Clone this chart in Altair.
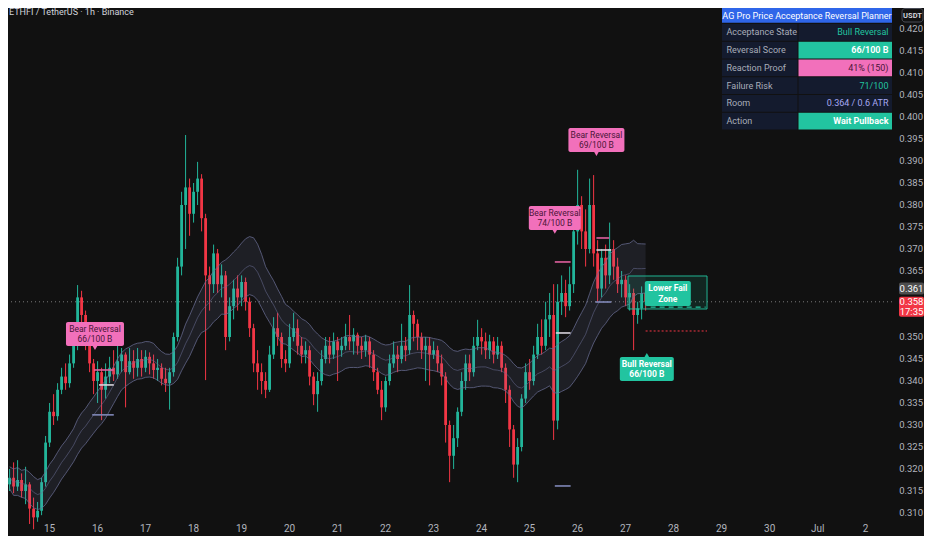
import altair as alt
import pandas as pd

# ---------------- data ----------------
START_HOUR = -20          # hours relative to 15 Jun 00:00
BAR_HOURS = 2
OPEN_FIRST = 0.3165

CLOSE = [0.3180, 0.3160, 0.3175, 0.3150, 0.3165, 0.3110, 0.3090, 0.3105, 0.3170, 0.3260,
         0.3330, 0.3320, 0.3380, 0.3410, 0.3395, 0.3440, 0.3480, 0.3590, 0.3550, 0.3490,
         0.3440, 0.3400, 0.3420, 0.3380, 0.3410, 0.3430, 0.3415, 0.3445, 0.3460, 0.3420,
         0.3445, 0.3430, 0.3450, 0.3430, 0.3455, 0.3440, 0.3425, 0.3430, 0.3405, 0.3395,
         0.3420, 0.3500, 0.3660, 0.3800, 0.3840, 0.3780, 0.3830, 0.3860, 0.3770, 0.3640,
         0.3620, 0.3690, 0.3620, 0.3640, 0.3500, 0.3570, 0.3610, 0.3590, 0.3625, 0.3580,
         0.3520, 0.3440, 0.3420, 0.3400, 0.3380, 0.3460, 0.3520, 0.3500, 0.3450, 0.3440,
         0.3500, 0.3520, 0.3480, 0.3460, 0.3470, 0.3410, 0.3370, 0.3400, 0.3450, 0.3480,
         0.3460, 0.3490, 0.3470, 0.3480, 0.3500, 0.3490, 0.3505, 0.3480, 0.3470, 0.3490,
         0.3460, 0.3420, 0.3380, 0.3340, 0.3400, 0.3440, 0.3460, 0.3450, 0.3480, 0.3470,
         0.3550, 0.3530, 0.3500, 0.3470, 0.3480, 0.3460, 0.3470, 0.3440, 0.3410, 0.3300,
         0.3230, 0.3270, 0.3330, 0.3400, 0.3440, 0.3420, 0.3480, 0.3500, 0.3490, 0.3470,
         0.3490, 0.3460, 0.3480, 0.3430, 0.3380, 0.3290, 0.3210, 0.3250, 0.3360, 0.3420,
         0.3400, 0.3460, 0.3500, 0.3480, 0.3540, 0.3550, 0.3310, 0.3580, 0.3600, 0.3570,
         0.3620, 0.3740, 0.3800, 0.3740, 0.3700, 0.3800, 0.3690, 0.3610, 0.3680, 0.3640,
         0.3700, 0.3660, 0.3620, 0.3630, 0.3590, 0.3600, 0.3550, 0.3565, 0.3600, 0.3580]

HIGH = [0.3200, 0.3215, 0.3220, 0.3190, 0.3205, 0.3170, 0.3135, 0.3125, 0.3180, 0.3275,
        0.3350, 0.3370, 0.3395, 0.3430, 0.3440, 0.3460, 0.3520, 0.3618, 0.3605, 0.3560,
        0.3500, 0.3450, 0.3445, 0.3430, 0.3440, 0.3455, 0.3470, 0.3480, 0.3475, 0.3465,
        0.3475, 0.3470, 0.3475, 0.3470, 0.3470, 0.3465, 0.3460, 0.3450, 0.3440, 0.3430,
        0.3430, 0.3510, 0.3680, 0.3830, 0.3959, 0.3860, 0.3850, 0.3898, 0.3870, 0.3780,
        0.3660, 0.3710, 0.3700, 0.3665, 0.3650, 0.3590, 0.3630, 0.3640, 0.3640, 0.3635,
        0.3590, 0.3530, 0.3470, 0.3440, 0.3420, 0.3480, 0.3545, 0.3555, 0.3510, 0.3470,
        0.3530, 0.3555, 0.3540, 0.3500, 0.3490, 0.3480, 0.3420, 0.3420, 0.3470, 0.3500,
        0.3500, 0.3510, 0.3500, 0.3500, 0.3530, 0.3550, 0.3520, 0.3510, 0.3500, 0.3505,
        0.3500, 0.3470, 0.3430, 0.3400, 0.3410, 0.3460, 0.3490, 0.3480, 0.3530, 0.3500,
        0.3618, 0.3560, 0.3540, 0.3510, 0.3500, 0.3500, 0.3490, 0.3480, 0.3460, 0.3420,
        0.3310, 0.3300, 0.3340, 0.3420, 0.3460, 0.3460, 0.3500, 0.3539, 0.3520, 0.3510,
        0.3505, 0.3500, 0.3500, 0.3490, 0.3440, 0.3390, 0.3300, 0.3270, 0.3370, 0.3440,
        0.3450, 0.3480, 0.3530, 0.3540, 0.3580, 0.3600, 0.3620, 0.3620, 0.3640, 0.3630,
        0.3660, 0.3760, 0.3880, 0.3820, 0.3790, 0.3860, 0.3868, 0.3720, 0.3700, 0.3710,
        0.3760, 0.3720, 0.3680, 0.3650, 0.3640, 0.3620, 0.3610, 0.3580, 0.3615, 0.3610]

LOW = [0.3150, 0.3145, 0.3150, 0.3135, 0.3120, 0.3075, 0.3063, 0.3080, 0.3095, 0.3160,
       0.3250, 0.3300, 0.3310, 0.3370, 0.3380, 0.3385, 0.3430, 0.3470, 0.3520, 0.3470,
       0.3420, 0.3370, 0.3350, 0.3311, 0.3360, 0.3395, 0.3400, 0.3405, 0.3420, 0.3340,
       0.3415, 0.3405, 0.3410, 0.3410, 0.3420, 0.3415, 0.3405, 0.3400, 0.3390, 0.3375,
       0.3335, 0.3410, 0.3490, 0.3640, 0.3700, 0.3730, 0.3760, 0.3800, 0.3740, 0.3402,
       0.3560, 0.3600, 0.3600, 0.3590, 0.3470, 0.3490, 0.3540, 0.3560, 0.3570, 0.3560,
       0.3500, 0.3420, 0.3380, 0.3370, 0.3361, 0.3375, 0.3450, 0.3480, 0.3430, 0.3420,
       0.3430, 0.3490, 0.3460, 0.3440, 0.3440, 0.3390, 0.3345, 0.3330, 0.3390, 0.3440,
       0.3440, 0.3450, 0.3400, 0.3455, 0.3470, 0.3470, 0.3460, 0.3460, 0.3450, 0.3455,
       0.3430, 0.3400, 0.3370, 0.3311, 0.3330, 0.3390, 0.3430, 0.3420, 0.3440, 0.3445,
       0.3460, 0.3490, 0.3470, 0.3450, 0.3400, 0.3390, 0.3450, 0.3420, 0.3390, 0.3260,
       0.3170, 0.3200, 0.3250, 0.3320, 0.3380, 0.3400, 0.3410, 0.3470, 0.3460, 0.3450,
       0.3450, 0.3440, 0.3450, 0.3420, 0.3350, 0.3250, 0.3180, 0.3170, 0.3240, 0.3350,
       0.3380, 0.3390, 0.3450, 0.3460, 0.3470, 0.3500, 0.3266, 0.3290, 0.3550, 0.3545,
       0.3560, 0.3600, 0.3710, 0.3700, 0.3660, 0.3690, 0.3660, 0.3580, 0.3590, 0.3610,
       0.3620, 0.3630, 0.3600, 0.3590, 0.3570, 0.3560, 0.3470, 0.3530, 0.3540, 0.3560]

DAY_TICKS = list(range(15, 33))          # 15 Jun ... 30 Jun, Jul, 2
PRICE_TICKS = [round(0.310 + 0.005 * k, 3) for k in range(23)]
HIDDEN_TICKS = [0.355, 0.360]            # covered by the price tags
MARK_PRICE = 0.361
LAST_PRICE = CLOSE[-1]
COUNTDOWN = "17:35"
TITLE = "ETHFI / TetherUS · 1h · Binance"

REV_TEXT = ["Bear Reversal\n66/100 B", "Bear Reversal\n74/100 B",
            "Bear Reversal\n69/100 B", "Bull Reversal\n66/100 B"]
REV_HOUR = [22.7, 252.6, 273.4, 298.6]
REV_PRICE = [0.3468, 0.3732, 0.3909, 0.3466]
REV_SIDE = ["bear", "bear", "bear", "bull"]

ZONE_HOURS = [289.2, 328.7]
ZONE_PRICES = [0.35636, 0.36386]
ZONE_TEXT = "Lower Fail\nZone"
ZONE_TEXT_HOUR = 297.6
ZONE_TEXT_PRICE = 0.35989
ZONE_DASH_PRICE = 0.3568
ZONE_DASH_HOURS = [300.5, 328.0]
FAIL_PRICE = 0.35136
FAIL_HOURS = [298.0, 328.7]

LEVEL_H0 = [21.3, 22.2, 24.7, 252.6, 253.1, 252.6, 273.4, 273.4, 272.9]
LEVEL_H1 = [32.1, 32.1, 32.1, 260.5, 260.5, 260.5, 279.8, 280.8, 280.8]
LEVEL_P = [0.3323, 0.3425, 0.3391, 0.36705, 0.35091, 0.31614, 0.3725, 0.36977, 0.35795]
LEVEL_KIND = ["base", "top", "mid", "top", "mid", "base", "top", "mid", "base"]

TABLE_TITLE = "AG Pro Price Acceptance Reversal Planner"
TABLE_LABELS = ["Acceptance State", "Reversal Score", "Reaction Proof",
                "Failure Risk", "Room", "Action"]
TABLE_VALUES = ["Bull Reversal", "66/100 B", "41%  (150)", "71/100",
                "0.364 / 0.6 ATR", "Wait Pullback"]

# ---------------- styles ----------------
BG = "#111111"
UP = "#22b59a"
DN = "#f23645"
AXIS_TXT = "#b2b5be"
PINK = "#f270bb"
TEAL = "#22c4a0"
NAVY = "#141b2e"
FONT = "Roboto"
LEVEL_COLORS = {"top": "#e0609f", "mid": "#d8d4dc", "base": "#8088b8"}
W, H = 884, 514
LH = 10.5  # line height for two-line labels

XS = alt.Scale(domain=[-18.29, 418.68], nice=False, zero=False)
YS = alt.Scale(domain=[0.30795, 0.42477], nice=False, zero=False)

# ---------------- frames ----------------
rows = []
prev = OPEN_FIRST
for i, (c, h, l) in enumerate(zip(CLOSE, HIGH, LOW)):
    o = prev
    rows.append(dict(t=START_HOUR + BAR_HOURS * i, open=o, close=c,
                     high=max(h, o, c), low=min(l, o, c)))
    prev = c
df = pd.DataFrame(rows)

XE = dict(scale=XS, axis=None)
YE = dict(scale=YS, axis=None)
dir_color = alt.when(alt.datum.close >= alt.datum.open).then(alt.value(UP)).otherwise(alt.value(DN))

layers = []

# dotted last-price line
layers.append(alt.Chart(pd.DataFrame({"p": [LAST_PRICE]})).mark_rule(
    color="#7a7a7a", strokeDash=[1, 3], strokeWidth=1).encode(y=alt.Y("p:Q", **YE)))

# candles
layers.append(alt.Chart(df).mark_rule(strokeWidth=1).encode(
    x=alt.X("t:Q", **XE), y=alt.Y("low:Q", **YE), y2="high:Q", color=dir_color))
layers.append(alt.Chart(df).mark_bar(width=2.8).encode(
    x=alt.X("t:Q", **XE), y=alt.Y("open:Q", **YE), y2="close:Q", color=dir_color))

# envelope band (slow moving average +/- half the average bar range)
band_base = alt.Chart(df).transform_calculate(rng="datum.high - datum.low").transform_window(
    mid="mean(close)", atr="mean(rng)", frame=[-19, 0], sort=[alt.SortField("t")]).transform_calculate(
    up="datum.mid + 0.5*datum.atr", dn="datum.mid - 0.5*datum.atr")
layers.append(band_base.mark_area(color="#8a90c4", opacity=0.11).encode(
    x=alt.X("t:Q", **XE), y=alt.Y("up:Q", **YE), y2="dn:Q"))
for f, op in (("up", 0.75), ("mid", 0.55), ("dn", 0.75)):
    layers.append(band_base.mark_line(color="#686c92", strokeWidth=1, opacity=op).encode(
        x=alt.X("t:Q", **XE), y=alt.Y(f + ":Q", **YE)))

# short level segments
lv = pd.DataFrame({"h0": LEVEL_H0, "h1": LEVEL_H1, "p": LEVEL_P,
                   "col": [LEVEL_COLORS[k] for k in LEVEL_KIND]})
layers.append(alt.Chart(lv).mark_rule(strokeWidth=1.6).encode(
    x=alt.X("h0:Q", **XE), x2="h1:Q", y=alt.Y("p:Q", **YE),
    color=alt.Color("col:N", scale=None)))

# zone
zone = pd.DataFrame({"h0": [ZONE_HOURS[0]], "h1": [ZONE_HOURS[1]],
                     "p0": [ZONE_PRICES[0]], "p1": [ZONE_PRICES[1]]})
layers.append(alt.Chart(zone).mark_rect(fill=TEAL, fillOpacity=0.12, stroke=TEAL,
                                        strokeWidth=1, strokeOpacity=0.9).encode(
    x=alt.X("h0:Q", **XE), x2="h1:Q", y=alt.Y("p0:Q", **YE), y2="p1:Q"))
layers.append(alt.Chart(pd.DataFrame({"h0": [ZONE_DASH_HOURS[0]], "h1": [ZONE_DASH_HOURS[1]],
                                      "p": [ZONE_DASH_PRICE]})).mark_rule(
    color=TEAL, strokeDash=[5, 4], strokeWidth=1.2).encode(
    x=alt.X("h0:Q", **XE), x2="h1:Q", y=alt.Y("p:Q", **YE)))
layers.append(alt.Chart(pd.DataFrame({"h0": [FAIL_HOURS[0]], "h1": [FAIL_HOURS[1]],
                                      "p": [FAIL_PRICE]})).mark_rule(
    color=DN, strokeDash=[2, 2], strokeWidth=1).encode(
    x=alt.X("h0:Q", **XE), x2="h1:Q", y=alt.Y("p:Q", **YE)))
zl = pd.DataFrame({"h": [ZONE_TEXT_HOUR], "p": [ZONE_TEXT_PRICE]})
layers.append(alt.Chart(zl).mark_rect(color=TEAL, cornerRadius=2, xOffset=0, x2Offset=46,
                                      yOffset=-12.5, y2Offset=12.5).encode(
    x=alt.X("h:Q", **XE), x2="h:Q", y=alt.Y("p:Q", **YE), y2="p:Q"))
layers.append(alt.Chart(zl).mark_text(lineBreak="\n", lineHeight=LH, fontSize=8.5, font=FONT,
                                      color="white", align="center", baseline="middle",
                                      xOffset=23, yOffset=-LH / 2, fontWeight="bold").encode(
    x=alt.X("h:Q", **XE), y=alt.Y("p:Q", **YE), text=alt.value(ZONE_TEXT)))

# reversal labels
LABEL_W = [58, 52, 56, 54]
for k in range(len(REV_TEXT)):
    d = pd.DataFrame({"h": [REV_HOUR[k]], "p": [REV_PRICE[k]]})
    bear = REV_SIDE[k] == "bear"
    col = PINK if bear else TEAL
    txtc = "#4a1538" if bear else "white"
    y0, y1 = (-29, -5) if bear else (5, 29)
    hw = LABEL_W[k] / 2
    enc = dict(x=alt.X("h:Q", **XE), y=alt.Y("p:Q", **YE))
    layers.append(alt.Chart(d).mark_rect(color=col, cornerRadius=2, xOffset=-hw, x2Offset=hw,
                                         yOffset=y0, y2Offset=y1).encode(x2="h:Q", y2="p:Q", **enc))
    layers.append(alt.Chart(d).mark_point(shape="triangle-down" if bear else "triangle-up",
                                          filled=True, color=col, opacity=1, size=45,
                                          yOffset=-4 if bear else 4).encode(**enc))
    layers.append(alt.Chart(d).mark_text(lineBreak="\n", lineHeight=LH, fontSize=8.5, font=FONT,
                                         color=txtc, align="center", baseline="middle",
                                         yOffset=(y0 + y1) / 2 - LH / 2,
                                         fontWeight="normal" if bear else "bold").encode(
        text=alt.value(REV_TEXT[k]), **enc))

# price scale labels (right) and day labels (bottom)
yt = pd.DataFrame({"v": [v for v in PRICE_TICKS if v not in HIDDEN_TICKS]})
yt["lab"] = yt["v"].map(lambda v: f"{v:.3f}")
layers.append(alt.Chart(yt).mark_text(color=AXIS_TXT, fontSize=9.5, font=FONT,
                                      align="right", baseline="middle").encode(
    x=alt.value(W + 31), y=alt.Y("v:Q", **YE), text="lab:N"))
xt = pd.DataFrame({"d": DAY_TICKS})
xt["h"] = (xt["d"] - 15) * 24
xt["lab"] = xt["d"].map(lambda d: "Jul" if d == 31 else ("2" if d == 32 else str(d)))
layers.append(alt.Chart(xt).mark_text(color=AXIS_TXT, fontSize=10, font=FONT,
                                      align="center", baseline="middle").encode(
    x=alt.X("h:Q", **XE), y=alt.value(H + 7), text="lab:N"))

# price tags on the scale
one = pd.DataFrame({"p": [MARK_PRICE]})
layers.append(alt.Chart(one).mark_rect(color="#4e4e4e", cornerRadius=2, yOffset=-6, y2Offset=6).encode(
    x=alt.value(W + 7), x2=alt.value(W + 32), y=alt.Y("p:Q", **YE), y2="p:Q"))
layers.append(alt.Chart(one).mark_text(color="white", fontSize=9.5, font=FONT,
                                       align="center", baseline="middle").encode(
    x=alt.value(W + 19.5), y=alt.Y("p:Q", **YE), text=alt.value(f"{MARK_PRICE:.3f}")))
last = pd.DataFrame({"p": [LAST_PRICE]})
layers.append(alt.Chart(last).mark_rect(color=DN, cornerRadius=2, yOffset=-5, y2Offset=15).encode(
    x=alt.value(W + 7), x2=alt.value(W + 32), y=alt.Y("p:Q", **YE), y2="p:Q"))
layers.append(alt.Chart(last).mark_text(color="white", fontSize=9.5, font=FONT, align="center",
                                        baseline="middle", lineBreak="\n", lineHeight=10,
                                        yOffset=0.5).encode(
    x=alt.value(W + 19.5), y=alt.Y("p:Q", **YE),
    text=alt.value(f"{LAST_PRICE:.3f}\n{COUNTDOWN}")))

# USDT box
dummy = pd.DataFrame({"a": [0]})
layers.append(alt.Chart(dummy).mark_rect(fill=BG, stroke="#4a4d57", strokeWidth=1, cornerRadius=3).encode(
    x=alt.value(W + 10), x2=alt.value(W + 31), y=alt.value(0.5), y2=alt.value(14)))
layers.append(alt.Chart(dummy).mark_text(color="#d1d4dc", fontSize=7.5, font=FONT, fontWeight="bold",
                                         align="center", baseline="middle").encode(
    x=alt.value(W + 20.5), y=alt.value(7.5), text=alt.value("USDT")))

# title
layers.append(alt.Chart(dummy).mark_text(color="#d1d4dc", fontSize=9, font=FONT,
                                         align="left", baseline="top").encode(
    x=alt.value(1), y=alt.value(0), text=alt.value(TITLE)))

# info table
TX0, TXM, TX1 = 714, 790, 884
layers.append(alt.Chart(dummy).mark_rect(color="#2f66e9").encode(
    x=alt.value(TX0), x2=alt.value(TX1), y=alt.value(0), y2=alt.value(14.7)))
layers.append(alt.Chart(dummy).mark_text(color="white", fontSize=9, font=FONT,
                                         align="center", baseline="middle").encode(
    x=alt.value((TX0 + TX1) / 2), y=alt.value(7.5), text=alt.value(TABLE_TITLE)))
VAL_BG = [NAVY, TEAL, PINK, NAVY, NAVY, TEAL]
VAL_FG = [TEAL, "white", "#4a1538", TEAL, "#a6a8f2", "white"]
VAL_BOLD = [False, True, False, False, False, True]
for r in range(len(TABLE_LABELS)):
    y0 = 16 + r * 17.75
    y1 = y0 + 16.7
    yc = (y0 + y1) / 2
    layers.append(alt.Chart(dummy).mark_rect(color=NAVY).encode(
        x=alt.value(TX0), x2=alt.value(TXM - 0.5), y=alt.value(y0), y2=alt.value(y1)))
    layers.append(alt.Chart(dummy).mark_rect(color=VAL_BG[r]).encode(
        x=alt.value(TXM + 0.5), x2=alt.value(TX1), y=alt.value(y0), y2=alt.value(y1)))
    layers.append(alt.Chart(dummy).mark_text(color="#a9adb9", fontSize=9, font=FONT,
                                             align="left", baseline="middle").encode(
        x=alt.value(TX0 + 4.5), y=alt.value(yc), text=alt.value(TABLE_LABELS[r])))
    layers.append(alt.Chart(dummy).mark_text(color=VAL_FG[r], fontSize=9, font=FONT,
                                             fontWeight="bold" if VAL_BOLD[r] else "normal",
                                             align="right", baseline="middle").encode(
        x=alt.value(TX1 - 3.5), y=alt.value(yc), text=alt.value(TABLE_VALUES[r])))

chart = alt.layer(*layers).properties(
    width=W, height=H, background=BG,
    autosize=alt.AutoSizeParams(type="none"),
    padding={"left": 0, "top": 0, "right": 32, "bottom": 14},
).configure_view(stroke=None)

chart.save("out.html", embed_options={"renderer": "svg", "actions": False})
